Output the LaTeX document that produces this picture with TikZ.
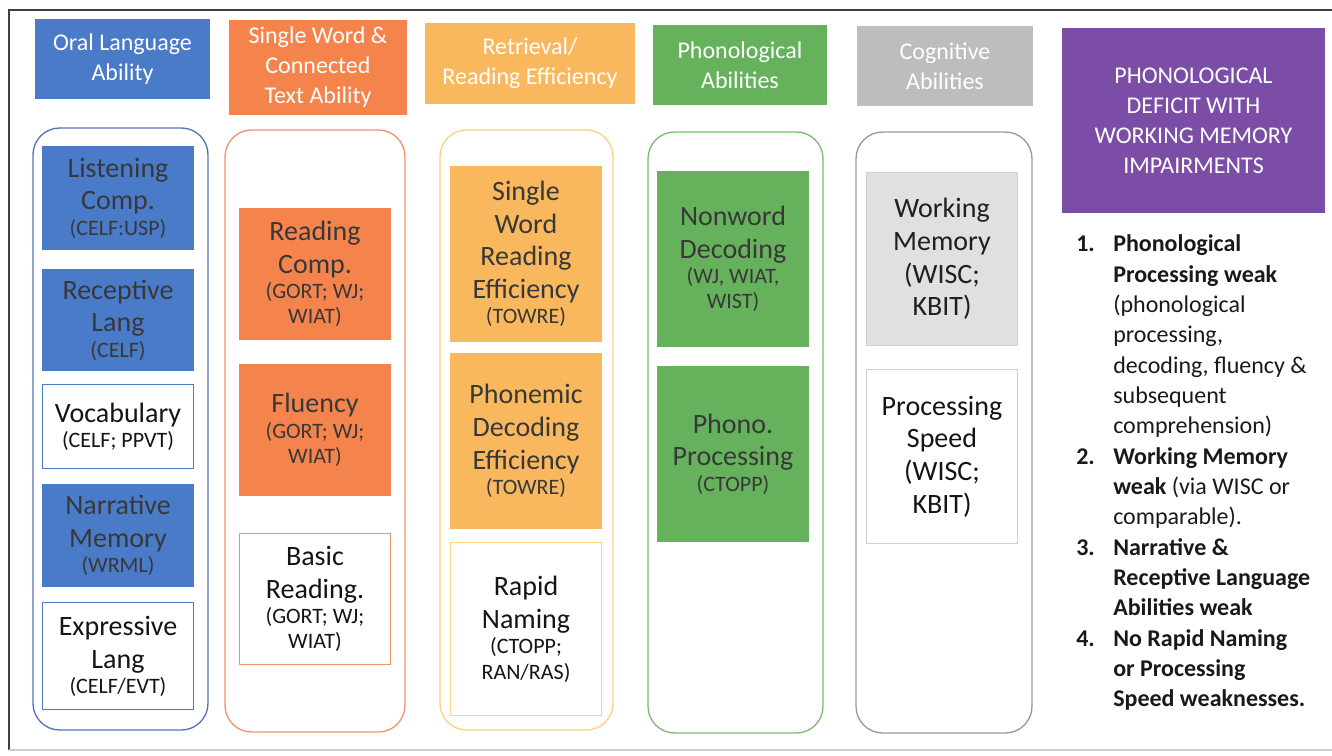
\documentclass[tikz,border=0pt]{standalone}
\usepackage{fontspec}
\setmainfont{Carlito}
\usetikzlibrary{positioning}

\definecolor{oralblue}{HTML}{4A7BC8}
\definecolor{oralline}{HTML}{5474B4}
\definecolor{textorange}{HTML}{F5844C}
\definecolor{textline}{HTML}{F2926C}
\definecolor{retrgold}{HTML}{F9B85E}
\definecolor{retrline}{HTML}{F9D27C}
\definecolor{phongreen}{HTML}{66B25C}
\definecolor{phonline}{HTML}{7BBA6F}
\definecolor{coggray}{HTML}{BDBDBD}
\definecolor{cogline}{HTML}{999999}
\definecolor{wmgray}{HTML}{E0E0E0}
\definecolor{psline}{HTML}{CFCFCF}
\definecolor{deficit}{HTML}{7B4DA6}

\newcommand{\hdrsz}{\fontsize{18}{22.5}\selectfont}
\newcommand{\mainsz}{\fontsize{21}{24.5}\selectfont}
\newcommand{\battery}[1]{\par{\fontsize{16.5}{19}\selectfont #1\par}}
\newcommand{\listsz}{\fontsize{18}{22.75}\selectfont}

\tikzset{
  hdr/.style={fill=#1, text=white, align=center, inner sep=0pt, font=\hdrsz},
  skill/.style={draw=#1, fill=#1, line width=0.8pt, text=black!78, text width=113pt,
    align=flush center, inner sep=0pt, font=\mainsz, anchor=north},
  openbox/.style={skill=#1, fill=white, text=black!92},
  colframe/.style={draw=#1, line width=1pt, rounded corners=20pt, inner sep=0pt},
}

\begin{document}
\begin{tikzpicture}[x=0.75pt, y=-0.75pt]
    \useasboundingbox (0,0) rectangle (1332,756);
    % outer frame
    \draw[black!75, line width=1.2pt] (9,750) -- (9,10) -- (1332,10);
    \draw[black!20, line width=0.8pt] (9,750) -- (1332,750);

    % headers
    \node[hdr=oralblue, minimum width=131.25pt, minimum height=60pt] (hOral) at (122.5,59) {Oral Language\\Ability};
    \node[hdr=textorange, minimum width=133.5pt, minimum height=71.25pt] (hText) at (318,67.5) {Single Word \&\\Connected\\Text Ability};
    \node[hdr=retrgold, minimum width=157.5pt, minimum height=60.75pt] (hRetr) at (530,63.5) {Retrieval/\\Reading Efficiency};
    \node[hdr=phongreen, minimum width=130.5pt, minimum height=60pt] (hPhon) at (740,65) {Phonological\\Abilities};
    \node[hdr=coggray, minimum width=132pt, minimum height=60pt] (hCog) at (945,66) {Cognitive\\Abilities};
    \node[hdr=deficit, minimum width=197.25pt, minimum height=138.75pt] (hDef) at (1193.5,120.5) {PHONOLOGICAL\\DEFICIT WITH\\WORKING MEMORY\\IMPAIRMENTS};

    % column frames
    \node[colframe=oralline, minimum width=131.25pt, minimum height=451.5pt] (cOral) at (120.5,429) {};
    \node[colframe=textline, minimum width=135pt, minimum height=451.5pt] (cText) at (315,431) {};
    \node[colframe=retrline, minimum width=129.75pt, minimum height=450pt] (cRetr) at (526.5,430) {};
    \node[colframe=phonline, minimum width=131.25pt, minimum height=450.75pt] (cPhon) at (735.5,432.5) {};
    \node[colframe=cogline, minimum width=132pt, minimum height=450.75pt] (cCog) at (944,432.5) {};

    % oral language
    \node[skill=oralblue, minimum height=77.25pt] (listen) at (118,146) {Listening\\Comp.\battery{(CELF:USP)}};
    \node[skill=oralblue, minimum height=75.75pt, below=14.25pt of listen] (recep) {Receptive\\Lang\battery{(CELF)}};
    \node[openbox=oralblue, minimum height=63pt, below=9.75pt of recep] (vocab) {Vocabulary\battery{(CELF; PPVT)}};
    \node[skill=oralblue, minimum height=76.5pt, below=11.25pt of vocab] (narr) {Narrative\\Memory\battery{(WRML)}};
    \node[openbox=oralblue, minimum height=80.25pt, below=11.25pt of narr] (expr) {Expressive\\Lang\battery{(CELF/EVT)}};

    % single word & connected text
    \node[skill=textorange, minimum height=98.25pt] (rcomp) at (315,208) {Reading\\Comp.\battery{(GORT; WJ;\\WIAT)}};
    \node[skill=textorange, minimum height=98.25pt, below=18pt of rcomp] (fluen) {Fluency\battery{(GORT; WJ;\\WIAT)}};
    \node[openbox=textline, minimum height=98.25pt, below=27.75pt of fluen] (basic) {Basic\\Reading.\battery{(GORT; WJ;\\WIAT)}};

    % retrieval / reading efficiency
    \node[skill=retrgold, minimum height=131.25pt] (swre) at (526,166) {Single\\Word\\Reading\\Efficiency\battery{(TOWRE)}};
    \node[skill=retrgold, minimum height=131.25pt, below=8.25pt of swre] (pde) {Phonemic\\Decoding\\Efficiency\battery{(TOWRE)}};
    \node[openbox=retrline, minimum height=129.75pt, below=9.75pt of pde] (ran) {Rapid\\Naming\battery{(CTOPP;\\RAN/RAS)}};

    % phonological
    \node[skill=phongreen, minimum height=131.25pt] (nonw) at (733,171) {Nonword\\Decoding\battery{(WJ, WIAT,\\WIST)}};
    \node[skill=phongreen, minimum height=131.25pt, below=14.25pt of nonw] (phpr) {Phono.\\Processing\battery{(CTOPP)}};

    % cognitive
    \node[skill=wmgray, draw=psline, text=black!88, minimum height=129.75pt] (wmem) at (942,172) {Working\\Memory\\(WISC;\\KBIT)};
    \node[openbox=psline, minimum height=130.5pt, below=17.25pt of wmem] (pspd) {Processing\\Speed\\(WISC;\\KBIT)};

    % profile criteria
    \node[anchor=base west, inner sep=0pt, font=\listsz, text=black!90] (crit) at (1076,252) {%
        \begin{tabular}[t]{@{}p{27.75pt}@{}l@{}}
            \textbf{1.} & \textbf{Phonological}\\
             & \textbf{Processing weak}\\
             & (phonological\\
             & processing,\\
             & decoding, fluency \&\\
             & subsequent\\
             & comprehension)\\
            \textbf{2.} & \textbf{Working Memory}\\
             & \textbf{weak} (via WISC or\\
             & comparable).\\
            \textbf{3.} & \textbf{Narrative \&}\\
             & \textbf{Receptive Language}\\
             & \textbf{Abilities weak}\\
            \textbf{4.} & \textbf{No Rapid Naming}\\
             & \textbf{or Processing}\\
             & \textbf{Speed weaknesses.}
        \end{tabular}};
\end{tikzpicture}
\end{document}
